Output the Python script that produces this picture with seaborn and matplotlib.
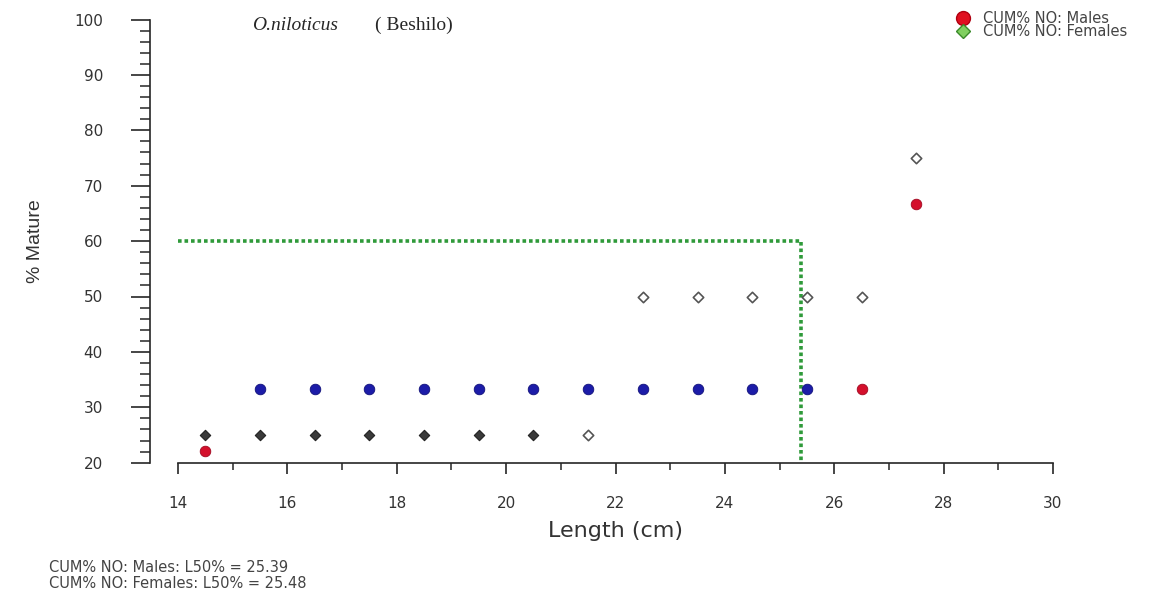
import numpy as np
import pandas as pd
import matplotlib
matplotlib.use("Agg")
import matplotlib.pyplot as plt
from matplotlib.lines import Line2D
from matplotlib.ticker import MultipleLocator
import seaborn as sns

# Datos
longitud = [14.5, 15.5, 16.5, 17.5, 18.5, 19.5, 20.5, 21.5, 22.5, 23.5, 24.5, 25.5, 26.5, 27.5]
machos = [22.2, 33.3, 33.3, 33.3, 33.3, 33.3, 33.3, 33.3, 33.3, 33.3, 33.3, 33.3, 33.3, 66.7]
hembras = [25, 25, 25, 25, 25, 25, 25, 25, 50, 50, 50, 50, 50, 75]
l50_machos = 25.39
l50_hembras = 25.48
l50_pct = 60

df = pd.DataFrame({'Length': longitud, 'Males': machos, 'Females': hembras})

sns.set_style("ticks")
plt.rcParams['font.family'] = ['DejaVu Sans']

fig = plt.figure(figsize=(11.63, 5.94), dpi=100)
ax = fig.add_axes([178 / 1163, 1 - 462.7 / 594, (1053 - 178) / 1163, (462.7 - 19.5) / 594])

# Línea L50 (verde punteada)
ax.plot([14, l50_machos, l50_machos], [l50_pct, l50_pct, 20], color='#2f9a3a',
        linestyle=(0, (1, 0.8)), linewidth=2.6, zorder=2)

# Hembras: rombos oscuros y abiertos
osc = df['Length'] <= 20.5
sns.scatterplot(data=df[osc], x='Length', y='Females', marker='D', s=28,
                color='#3a3a3a', edgecolor='#222222', linewidth=0.8, ax=ax, zorder=3)
sns.scatterplot(data=df[~osc], x='Length', y='Females', marker='D', s=28,
                color='white', edgecolor='#555555', linewidth=1.2, ax=ax, zorder=3)

# Machos: puntos azules y rojos
azul = (df['Length'] > 15) & (df['Length'] < 26)
sns.scatterplot(data=df[azul], x='Length', y='Males', marker='o', s=58,
                color='#1c1ca8', edgecolor='#10107a', linewidth=0.6, ax=ax, zorder=4)
sns.scatterplot(data=df[~azul], x='Length', y='Males', marker='o', s=58,
                color='#d4102c', edgecolor='#a00820', linewidth=0.6, ax=ax, zorder=4)

ax.set_xlim(14, 30)
ax.set_ylim(20, 100)
ax.xaxis.set_major_locator(MultipleLocator(2))
ax.xaxis.set_minor_locator(MultipleLocator(1))
ax.yaxis.set_major_locator(MultipleLocator(10))
ax.yaxis.set_minor_locator(MultipleLocator(2))

for s in ['top', 'right']:
    ax.spines[s].set_visible(False)
ax.spines['left'].set_position(('outward', 20))
ax.spines['left'].set_linewidth(1.2)
ax.spines['bottom'].set_linewidth(1.2)

ax.tick_params(axis='y', which='major', length=14, width=1.2, pad=20,
               labelsize=11, labelcolor='#333333')
ax.tick_params(axis='y', which='minor', length=7, width=1.1)
ax.tick_params(axis='x', which='major', length=8, width=1.2, pad=16,
               labelsize=11, labelcolor='#333333')
ax.tick_params(axis='x', which='minor', length=5, width=1.1)

ax.set_xlabel('Length (cm)', fontsize=16, color='#333333', labelpad=7)
ax.set_ylabel('% Mature', fontsize=14, color='#333333', labelpad=22,
              family='Liberation Sans')

# Título
ax.text(15.35, 99, 'O.niloticus', family='Liberation Serif', style='italic',
        fontsize=14, va='center', ha='left')
ax.text(17.6, 99, '( Beshilo)', family='Liberation Serif',
        fontsize=14, va='center', ha='left')

# Leyenda
handles = [Line2D([], [], marker='o', linestyle='', markersize=10,
                  markerfacecolor='#e01020', markeredgecolor='#b00010'),
           Line2D([], [], marker='D', linestyle='', markersize=7,
                  markerfacecolor='#80d060', markeredgecolor='#3a8a2a')]
fig.legend(handles, ['CUM% NO: Males', 'CUM% NO: Females'], loc='upper left',
           bbox_to_anchor=(948 / 1163, 1 - 5 / 594), frameon=False, fontsize=10.5,
           handletextpad=0.7, labelspacing=-0.1, borderaxespad=0, handlelength=1.3,
           labelcolor='#444444')

fig.text(49 / 1163, 1 - 568 / 594, f'CUM% NO: Males: L50% = {l50_machos:.2f}',
         fontsize=10.5, color='#444444', va='center')
fig.text(49 / 1163, 1 - 584 / 594, f'CUM% NO: Females: L50% = {l50_hembras:.2f}',
         fontsize=10.5, color='#444444', va='center')

fig.savefig('out.png', dpi=100)
